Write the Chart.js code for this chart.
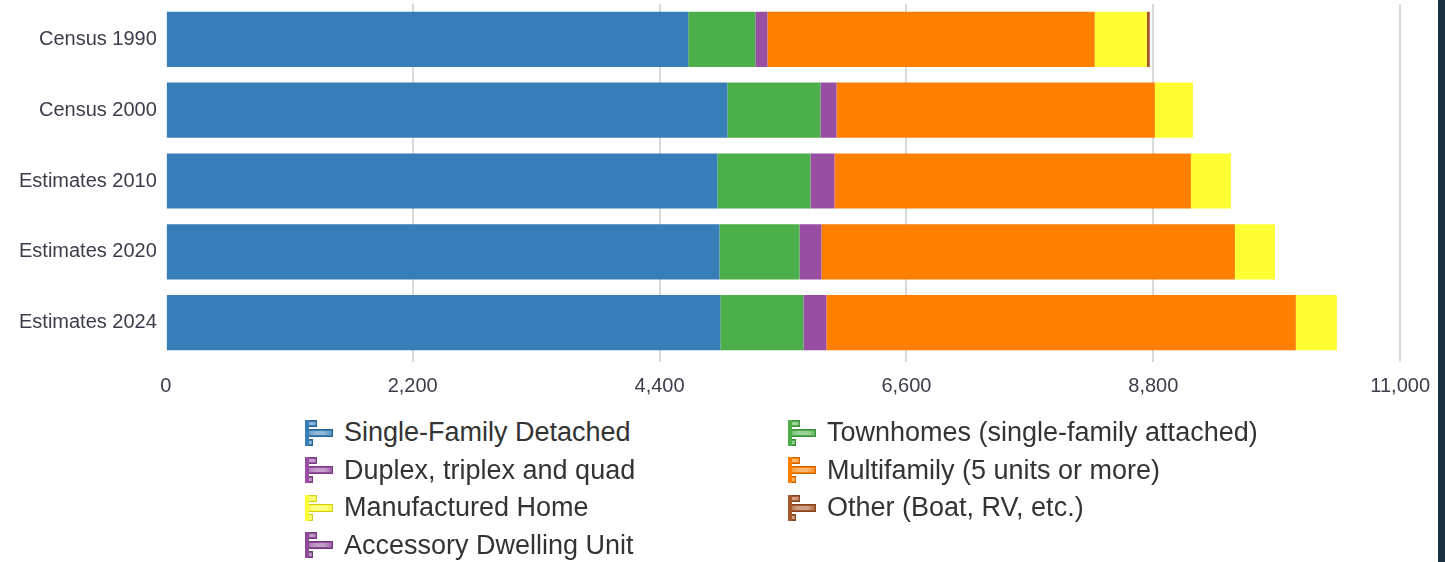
<!DOCTYPE html>
<html>
<head>
<meta charset="utf-8">
<script src="https://cdn.jsdelivr.net/npm/chart.js@4"></script>
<style>
  body { margin: 0; background: #fff; font-family: "Liberation Sans", Arial, sans-serif; overflow: hidden; }
  #wrap { position: absolute; left: 0; top: -17px; width: 1442px; height: 430px; }
  #strip { position: absolute; left: 1438px; top: 0; width: 7px; height: 562px; background: #1a2f3f; }
  #legend { position: absolute; left: 305px; top: 414px; display: grid;
            grid-template-columns: 483px 500px; row-gap: 0; }
  .item { display: flex; align-items: center; height: 37.5px; font-size: 27px; color: #333; }
  .item canvas { margin-right: 11px; }
</style>
</head>
<body>
<div id="wrap"><canvas id="myChart"></canvas></div>
<div id="strip"></div>
<div id="legend"></div>
<script>
let categories = ['Census 1990', 'Census 2000', 'Estimates 2010', 'Estimates 2020', 'Estimates 2024'];

let seriesNames = [
    'Single-Family Detached',
    'Townhomes (single-family attached)',
    'Duplex, triplex and quad',
    'Multifamily (5 units or more)',
    'Manufactured Home',
    'Other (Boat, RV, etc.)',
    'Accessory Dwelling Unit'
];

let colors = ['#377eb8', '#4daf4a', '#984ea3', '#ff7f00', '#ffff33', '#a65628', '#8e4a99'];

let singleFamily = [4656, 5004, 4915, 4933, 4942];
let townhomes = [598, 830, 830, 714, 740];
let duplex = [107, 143, 214, 196, 205];
let multifamily = [2917, 2837, 3176, 3684, 4183];
let manufactured = [464, 339, 357, 357, 366];
let other = [27, 0, 0, 0, 0];
let adu = [0, 0, 0, 0, 0];

let xTicks = [0, 2200, 4400, 6600, 8800, 11000];

let seriesData = [singleFamily, townhomes, duplex, multifamily, manufactured, other, adu];

let datasets = seriesNames.map((name, i) => ({
    label: name,
    data: seriesData[i],
    backgroundColor: colors[i],
    borderWidth: 0,
    barPercentage: 0.78,
    categoryPercentage: 1
}));

let ctx = document.getElementById('myChart').getContext('2d');

let chart = new Chart(ctx, {
    type: 'bar',
    data: {
        labels: categories,
        datasets: datasets
    },
    options: {
        indexAxis: 'y',
        responsive: true,
        maintainAspectRatio: false,
        animation: false,
        layout: {
            padding: { left: 10, right: 30, top: 4, bottom: 3 }
        },
        scales: {
            x: {
                stacked: true,
                min: 0,
                max: 11000,
                afterBuildTicks: (axis) => {
                    axis.ticks = xTicks.map(v => ({ value: v }));
                },
                grid: {
                    color: xTicks.map(v => v === 0 ? 'rgba(255,255,255,0)' : '#d9d9d9'),
                    lineWidth: 2,
                    tickLength: 4
                },
                border: { display: false },
                ticks: {
                    color: '#3c3c4c',
                    padding: 12,
                    font: { family: 'Liberation Sans', size: 20 },
                    callback: (v) => v.toLocaleString('en-US')
                }
            },
            y: {
                stacked: true,
                grid: { display: false, drawTicks: false },
                border: { display: false },
                ticks: {
                    color: '#3c3c4c',
                    padding: 9,
                    font: { family: 'Liberation Sans', size: 20 }
                }
            }
        },
        plugins: {
            legend: { display: false },
            tooltip: { enabled: false }
        }
    }
});

// little "bar chart" icon used in the legend
function makeIcon(color) {
    let c = document.createElement('canvas');
    c.width = 28;
    c.height = 28;
    let g = c.getContext('2d');
    let bars = [[0, 1, 12, 7], [0, 10, 28, 8], [0, 20, 8, 7]];
    bars.forEach(b => {
        let grad = g.createLinearGradient(0, 0, b[2], 0);
        grad.addColorStop(0, color);
        grad.addColorStop(0.55, 'rgba(255,255,255,0.45)');
        grad.addColorStop(1, color);
        g.fillStyle = color;
        g.fillRect(b[0], b[1], b[2], b[3]);
        g.fillStyle = grad;
        g.fillRect(b[0] + 4, b[1] + 2, b[2] - 5, b[3] - 4);
        g.strokeStyle = 'rgba(0,0,0,0.2)';
        g.lineWidth = 1;
        g.strokeRect(b[0] + 0.5, b[1] + 0.5, b[2] - 1, b[3] - 1);
    });
    g.fillStyle = color;
    g.fillRect(0, 1, 4, 26);
    return c;
}

let legend = document.getElementById('legend');
chart.data.datasets.forEach((ds) => {
    let item = document.createElement('div');
    item.className = 'item';
    item.appendChild(makeIcon(ds.backgroundColor));
    let span = document.createElement('span');
    span.textContent = ds.label;
    item.appendChild(span);
    legend.appendChild(item);
});
</script>
</body>
</html>
